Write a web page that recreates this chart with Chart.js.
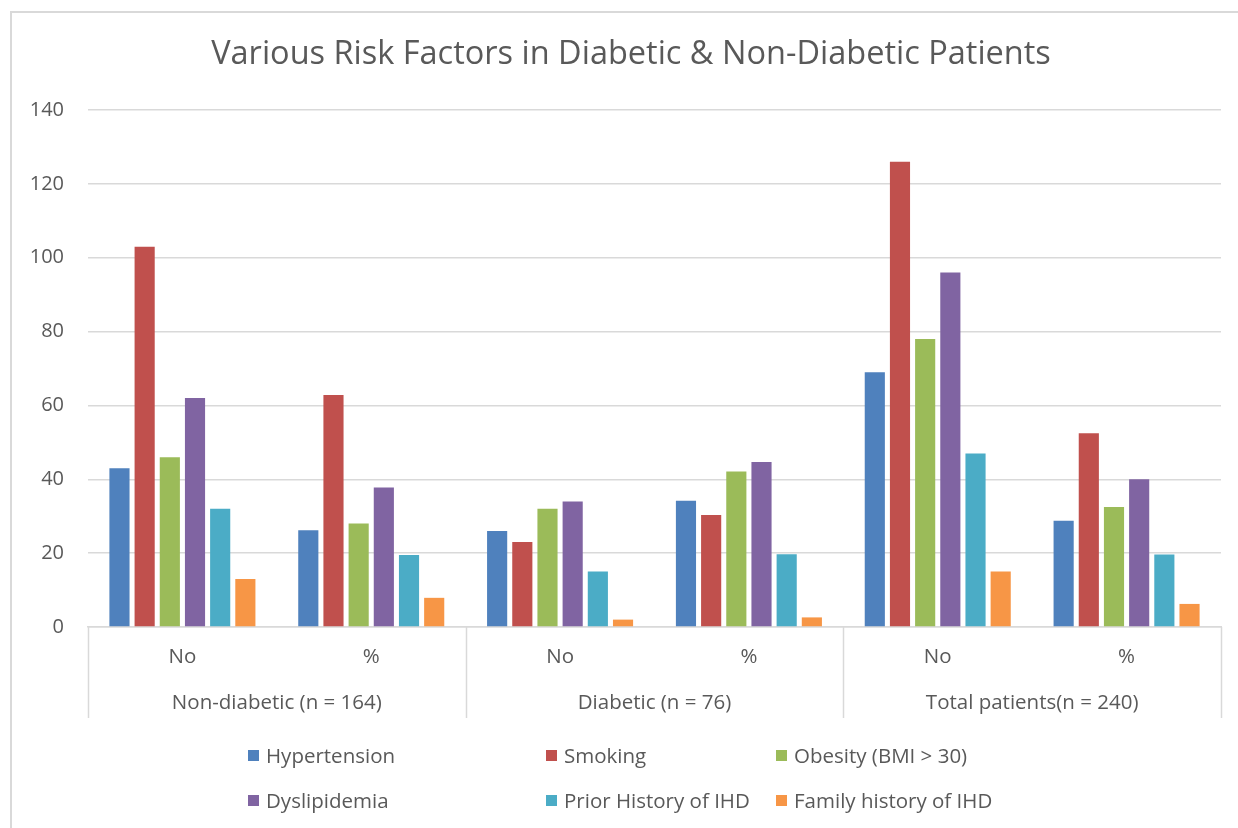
<!DOCTYPE html>
<html>
<head>
<meta charset="utf-8">
<script src="https://cdn.jsdelivr.net/npm/chart.js@4/dist/chart.umd.min.js"></script>
<style>
    body { margin: 0; background: #fff; }
    #wrap { position: relative; width: 1238px; height: 828px; overflow: hidden; }
    #frame { position: absolute; left: 10px; top: 11px; width: 1240px; height: 830px;
             border-left: 2px solid #d9d9d9; border-top: 2px solid #d9d9d9; }
    canvas { position: absolute; left: 0; top: 0; }
    #legend { position: absolute; left: 248px; top: 742px; display: grid;
              grid-template-columns: 298px 230px 260px; grid-auto-rows: 45px;
              font-family: "Open Sans", sans-serif; font-size: 20.5px; color: #595959; }
    #legend div { display: flex; align-items: center; height: 26px; }
    #legend span { display: inline-block; width: 11px; height: 11px; margin-right: 7px; }
</style>
</head>
<body>
<div id="wrap">
    <div id="frame"></div>
    <canvas id="riskChart" width="1238" height="828"></canvas>
    <div id="legend"></div>
</div>
<script>
// data
const chartTitle = 'Various Risk Factors in Diabetic & Non-Diabetic Patients';
const categories = ['No', '%', 'No', '%', 'No', '%'];
const groups = ['Non-diabetic (n = 164)', 'Diabetic (n = 76)', 'Total patients(n = 240)'];

const hypertension = [43, 26.2, 26, 34.2, 69, 28.75];
const smoking = [103, 62.8, 23, 30.3, 126, 52.5];
const obesity = [46, 28, 32, 42.1, 78, 32.5];
const dyslipidemia = [62, 37.8, 34, 44.7, 96, 40];
const priorIHD = [32, 19.5, 15, 19.7, 47, 19.6];
const familyIHD = [13, 7.9, 2, 2.6, 15, 6.25];

const seriesNames = ['Hypertension', 'Smoking', 'Obesity (BMI > 30)', 'Dyslipidemia', 'Prior History of IHD', 'Family history of IHD'];
const seriesData = [hypertension, smoking, obesity, dyslipidemia, priorIHD, familyIHD];
const seriesColors = ['#4F81BD', '#C0504D', '#9BBB59', '#8064A2', '#4BACC6', '#F79646'];

const textColor = '#595959';
const gridColor = '#d9d9d9';
const font = "'Open Sans', sans-serif";

// judul di tengah bingkai (bingkai lebih lebar dari kanvas)
const frameTitlePlugin = {
    id: 'frameTitle',
    afterDraw(chart) {
        const ctx = chart.ctx;
        ctx.save();
        ctx.fillStyle = textColor;
        ctx.font = '32.5px ' + font;
        ctx.textAlign = 'center';
        ctx.textBaseline = 'middle';
        ctx.fillText(chartTitle, (12 + chart.width + 12) / 2, 55);
        ctx.restore();
    }
};

// garis pemisah + label grup di bawah sumbu x
const groupAxisPlugin = {
    id: 'groupAxis',
    afterDraw(chart) {
        const ctx = chart.ctx;
        const x = chart.scales.x;
        const bottom = chart.chartArea.bottom;

        const edges = [x.left];
        for (let i = 1; i < groups.length; i++) {
            const a = x.getPixelForValue(i * 2 - 1);
            const b = x.getPixelForValue(i * 2);
            edges.push((a + b) / 2);
        }
        edges.push(x.right);

        ctx.save();
        ctx.strokeStyle = gridColor;
        ctx.lineWidth = 1.5;
        edges.forEach(e => {
            ctx.beginPath();
            ctx.moveTo(Math.round(e) + 0.5, bottom);
            ctx.lineTo(Math.round(e) + 0.5, bottom + 91);
            ctx.stroke();
        });

        ctx.fillStyle = textColor;
        ctx.font = '20.5px ' + font;
        ctx.textAlign = 'center';
        ctx.textBaseline = 'middle';
        groups.forEach((g, i) => {
            ctx.fillText(g, (edges[i] + edges[i + 1]) / 2, bottom + 76);
        });
        ctx.restore();
    }
};

const ctx = document.getElementById('riskChart');

const riskChart = new Chart(ctx, {
    type: 'bar',
    data: {
        labels: categories,
        datasets: seriesNames.map((name, i) => ({
            label: name,
            data: seriesData[i],
            backgroundColor: seriesColors[i],
            categoryPercentage: 0.8,
            barPercentage: 0.8
        }))
    },
    options: {
        responsive: false,
        animation: false,
        layout: {
            padding: { left: 12, right: 17, top: 110, bottom: 98 }
        },
        plugins: {
            legend: { display: false },
            tooltip: { enabled: false },
            title: { display: false }
        },
        scales: {
            x: {
                grid: { display: false, drawTicks: false },
                border: { display: true, color: gridColor, width: 1.5 },
                ticks: {
                    color: textColor,
                    font: { family: font, size: 20.5 },
                    padding: 18,
                    maxRotation: 0
                },
                afterFit: s => { s.height = 103; }
            },
            y: {
                min: 0,
                max: 140,
                grid: { color: gridColor, lineWidth: 1.5, drawTicks: false },
                border: { display: false },
                ticks: {
                    stepSize: 20,
                    color: textColor,
                    font: { family: font, size: 20 },
                    padding: 24
                },
                afterFit: s => { s.width = 76; }
            }
        }
    },
    plugins: [frameTitlePlugin, groupAxisPlugin]
});

// legend html, 3 kolom
const legend = document.getElementById('legend');
seriesNames.forEach((name, i) => {
    const item = document.createElement('div');
    item.innerHTML = '<span style="background:' + seriesColors[i] + '"></span>' + name;
    legend.appendChild(item);
});
</script>
</body>
</html>
